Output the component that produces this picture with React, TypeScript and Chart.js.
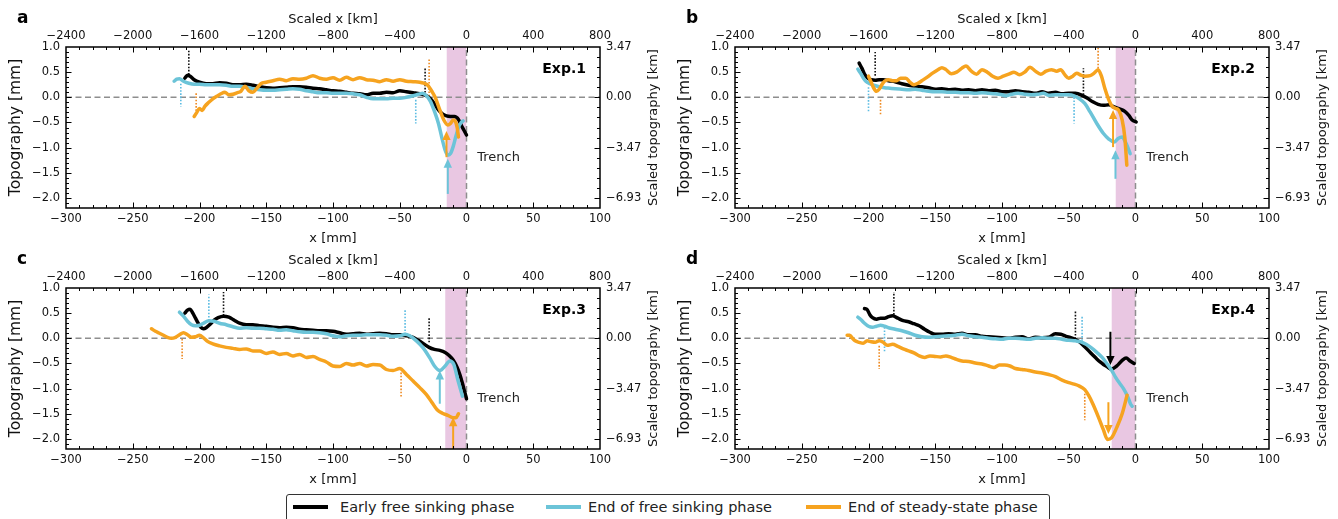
import React, { useEffect, useRef } from 'react';
import { Chart, registerables } from 'chart.js';

Chart.register(...registerables);

type Pt = [number, number];
type Mark = [number, number, number]; // x, y-from, y-to (mm)

// ---------- axes ----------
const X_MIN = -300;
const X_MAX = 100;
const Y_MIN = -2.2;
const Y_MAX = 1.0;
const X_KM_PER_MM = 8;
const KM_PER_MM = 3.466;
const X_MM_TICKS = [-300, -250, -200, -150, -100, -50, 0, 50, 100];
const X_KM_TICKS = [-2400, -2000, -1600, -1200, -800, -400, 0, 400, 800];
const Y_MM_TICKS = [-2.0, -1.5, -1.0, -0.5, 0.0, 0.5, 1.0];
const Y_KM_TICK_POS_MM = [-2, -1, 0, 1];

const SERIES_NAMES = ['Early free sinking phase', 'End of free sinking phase', 'End of steady-state phase'];
const PANEL_LETTERS = ['a', 'b', 'c', 'd'];
const EXP_LABELS = ['Exp.1', 'Exp.2', 'Exp.3', 'Exp.4'];
const EXP_POS: Pt = [89.5, 0.55];
const TRENCH_POS: Pt = [8, -1.2];

// ---------- Exp.1 ----------
const aEarly: Pt[] = [
  [-211, 0.38], [-209, 0.44], [-207, 0.42], [-204, 0.35], [-200, 0.3], [-195, 0.27], [-190, 0.27], [-185, 0.29],
  [-180, 0.28], [-175, 0.25], [-170, 0.25], [-165, 0.26], [-160, 0.24], [-155, 0.21], [-150, 0.19], [-145, 0.18],
  [-140, 0.19], [-135, 0.2], [-130, 0.21], [-125, 0.21], [-120, 0.2], [-115, 0.18], [-110, 0.17], [-105, 0.15],
  [-100, 0.13], [-95, 0.12], [-90, 0.1], [-85, 0.08], [-80, 0.07], [-75, 0.05], [-70, 0.08], [-65, 0.08],
  [-60, 0.1], [-55, 0.09], [-50, 0.13], [-45, 0.11], [-40, 0.09], [-35, 0.07], [-30, 0.03], [-27, -0.03],
  [-24, -0.13], [-21, -0.25], [-18, -0.33], [-15, -0.37], [-12, -0.38], [-9, -0.38], [-6, -0.44], [-4, -0.55],
  [-2, -0.65], [0, -0.75],
];
const aEnd: Pt[] = [
  [-219, 0.32], [-217, 0.36], [-215, 0.37], [-212, 0.32], [-208, 0.28], [-204, 0.26], [-200, 0.26], [-195, 0.25],
  [-190, 0.25], [-185, 0.25], [-180, 0.24], [-175, 0.22], [-170, 0.22], [-165, 0.2], [-160, 0.17], [-155, 0.15],
  [-150, 0.14], [-145, 0.14], [-140, 0.15], [-135, 0.16], [-130, 0.17], [-125, 0.16], [-120, 0.13], [-115, 0.11],
  [-110, 0.09], [-105, 0.09], [-100, 0.08], [-95, 0.08], [-90, 0.08], [-85, 0.07], [-80, 0.05], [-75, 0.0],
  [-70, -0.03], [-65, -0.03], [-60, -0.03], [-55, -0.02], [-50, -0.02], [-45, 0.0], [-40, 0.03], [-36, 0.06],
  [-33, 0.08], [-30, 0.03], [-27, -0.08], [-24, -0.28], [-21, -0.52], [-18.5, -0.8], [-16, -1.05], [-14, -1.15],
  [-12, -1.12], [-10, -0.98], [-8, -0.78], [-6, -0.6], [-4, -0.5], [-2.5, -0.47],
];
const aSteady: Pt[] = [
  [-204, -0.38], [-202, -0.3], [-200, -0.22], [-198, -0.26], [-196, -0.18], [-193, -0.1], [-190, -0.03], [-187, 0.02],
  [-184, 0.07], [-181, 0.1], [-178, 0.05], [-175, 0.06], [-172, 0.09], [-169, 0.12], [-166, 0.22], [-163, 0.13],
  [-160, 0.1], [-157, 0.18], [-154, 0.27], [-150, 0.3], [-145, 0.33], [-140, 0.36], [-135, 0.33], [-130, 0.37],
  [-125, 0.36], [-120, 0.38], [-115, 0.43], [-110, 0.38], [-105, 0.36], [-100, 0.39], [-95, 0.34], [-90, 0.4],
  [-85, 0.35], [-80, 0.39], [-75, 0.35], [-70, 0.34], [-65, 0.31], [-60, 0.35], [-55, 0.32], [-50, 0.35],
  [-45, 0.32], [-40, 0.31], [-35, 0.3], [-32, 0.28], [-29, 0.24], [-26, 0.12], [-23.5, 0.0], [-20, -0.25],
  [-17, -0.45], [-14, -0.55], [-12, -0.52], [-10, -0.45], [-8.5, -0.47], [-7, -0.6], [-6, -0.79],
];
const aEarlyMarks: Mark[] = [[-208, 0.45, 0.96], [-31, 0.03, 0.59]];
const aEndMarks: Mark[] = [[-214, 0.27, -0.19], [-38, -0.05, -0.52]];
const aSteadyMarks: Mark[] = [[-202.5, 0.08, -0.3], [-28, 0.02, 0.77]];
const aArrows: Mark[][] = [[], [[-14, -1.92, -1.22]], [[-15, -1.19, -0.67]]];
const aBand: Pt = [-15, 0];

// ---------- Exp.2 ----------
const bEarly: Pt[] = [
  [-207, 0.68], [-205, 0.58], [-203, 0.46], [-201, 0.39], [-198, 0.35], [-195, 0.34], [-192, 0.35], [-189, 0.35],
  [-185, 0.33], [-180, 0.31], [-175, 0.27], [-170, 0.24], [-165, 0.22], [-160, 0.21], [-155, 0.19], [-150, 0.16],
  [-145, 0.17], [-140, 0.15], [-135, 0.16], [-130, 0.14], [-125, 0.15], [-120, 0.13], [-115, 0.15], [-110, 0.13],
  [-105, 0.14], [-100, 0.11], [-95, 0.11], [-90, 0.13], [-85, 0.11], [-80, 0.1], [-75, 0.08], [-70, 0.11],
  [-65, 0.08], [-60, 0.1], [-55, 0.07], [-50, 0.08], [-45, 0.08], [-40, 0.04], [-36, -0.02], [-32, -0.09],
  [-28, -0.14], [-24, -0.16], [-20, -0.15], [-16, -0.19], [-12, -0.23], [-8, -0.28], [-5, -0.36], [-2.5, -0.45],
  [0.5, -0.49],
];
const bEnd: Pt[] = [
  [-208, 0.56], [-206, 0.48], [-204, 0.39], [-202, 0.32], [-199, 0.27], [-196, 0.24], [-192, 0.21], [-188, 0.19],
  [-184, 0.18], [-180, 0.17], [-175, 0.16], [-170, 0.15], [-165, 0.16], [-160, 0.14], [-155, 0.12], [-150, 0.11],
  [-145, 0.11], [-140, 0.1], [-135, 0.1], [-130, 0.09], [-125, 0.09], [-120, 0.08], [-115, 0.09], [-110, 0.08],
  [-105, 0.07], [-100, 0.05], [-97, 0.03], [-93, 0.06], [-88, 0.08], [-83, 0.06], [-78, 0.05], [-73, 0.06],
  [-69, 0.08], [-65, 0.04], [-60, 0.05], [-55, 0.05], [-50, 0.05], [-46, 0.03], [-42, -0.03], [-38, -0.12],
  [-34, -0.29], [-29, -0.52], [-24, -0.72], [-20, -0.83], [-16, -0.89], [-13, -0.82], [-10, -0.79], [-7, -0.92],
  [-4, -1.12],
];
const bSteady: Pt[] = [
  [-200, 0.42], [-198, 0.3], [-196, 0.18], [-194, 0.12], [-192, 0.16], [-190, 0.25], [-188, 0.32], [-185, 0.35],
  [-182, 0.33], [-179, 0.33], [-176, 0.38], [-172, 0.38], [-169, 0.3], [-166, 0.25], [-163, 0.28], [-160, 0.33],
  [-156, 0.4], [-152, 0.48], [-148, 0.55], [-145, 0.59], [-142, 0.55], [-138, 0.47], [-134, 0.5], [-130, 0.58],
  [-127, 0.62], [-123, 0.52], [-119, 0.46], [-115, 0.55], [-111, 0.5], [-107, 0.42], [-103, 0.38], [-99, 0.42],
  [-95, 0.46], [-91, 0.5], [-87, 0.45], [-83, 0.5], [-79, 0.6], [-75, 0.52], [-71, 0.46], [-67, 0.52],
  [-63, 0.55], [-59, 0.52], [-56, 0.55], [-53, 0.45], [-50, 0.38], [-47, 0.42], [-44, 0.48], [-41, 0.44],
  [-38, 0.42], [-34, 0.43], [-31, 0.48], [-28, 0.55], [-25.5, 0.42], [-23, 0.18], [-20, -0.05], [-17.5, -0.18],
  [-15, -0.22], [-12.5, -0.26], [-10, -0.45], [-8, -0.8], [-6.5, -1.35],
];
const bEarlyMarks: Mark[] = [[-195, 0.43, 0.9], [-39, 0.05, 0.58]];
const bEndMarks: Mark[] = [[-200, 0.2, -0.28], [-46, 0.0, -0.52]];
const bSteadyMarks: Mark[] = [[-191, -0.05, -0.35], [-28, 0.51, 0.98]];
const bArrows: Mark[][] = [[], [[-15, -1.62, -1.05]], [[-16.8, -0.99, -0.25]]];
const bBand: Pt = [-15, 0];

// ---------- Exp.3 ----------
const cEarly: Pt[] = [
  [-211, 0.5], [-209, 0.56], [-207, 0.58], [-205, 0.5], [-203, 0.4], [-201, 0.3], [-199, 0.22], [-197, 0.19],
  [-195, 0.21], [-192, 0.28], [-189, 0.36], [-186, 0.41], [-182, 0.44], [-178, 0.42], [-174, 0.36], [-170, 0.3],
  [-165, 0.27], [-160, 0.27], [-155, 0.25], [-150, 0.24], [-145, 0.22], [-140, 0.21], [-135, 0.22], [-130, 0.21],
  [-125, 0.18], [-120, 0.17], [-115, 0.16], [-110, 0.15], [-105, 0.15], [-100, 0.14], [-95, 0.11], [-90, 0.08],
  [-85, 0.09], [-80, 0.1], [-75, 0.08], [-70, 0.09], [-65, 0.1], [-60, 0.09], [-55, 0.07], [-50, 0.07],
  [-45, 0.05], [-40, 0.02], [-36, -0.04], [-32, -0.11], [-28, -0.18], [-24, -0.22], [-20, -0.24], [-16, -0.28],
  [-13, -0.34], [-10, -0.43], [-7, -0.58], [-5, -0.72], [-3, -0.9], [-1.5, -1.05], [0, -1.2],
];
const cEnd: Pt[] = [
  [-215, 0.52], [-212, 0.44], [-209, 0.34], [-206, 0.27], [-203, 0.25], [-200, 0.26], [-197, 0.3], [-193, 0.35],
  [-189, 0.34], [-185, 0.3], [-180, 0.27], [-175, 0.23], [-170, 0.2], [-165, 0.21], [-160, 0.2], [-155, 0.2],
  [-150, 0.19], [-145, 0.18], [-140, 0.16], [-135, 0.17], [-130, 0.15], [-125, 0.13], [-120, 0.12], [-115, 0.12],
  [-110, 0.11], [-105, 0.09], [-100, 0.05], [-95, 0.03], [-90, 0.05], [-85, 0.06], [-80, 0.06], [-75, 0.07],
  [-70, 0.07], [-65, 0.07], [-60, 0.06], [-55, 0.04], [-50, 0.05], [-46, 0.08], [-42.5, 0.05], [-37.5, -0.05],
  [-32.5, -0.19], [-27.5, -0.39], [-24, -0.55], [-20, -0.64], [-16, -0.55], [-12.5, -0.45], [-9.5, -0.52],
  [-6.25, -0.85], [-3, -1.15],
];
const cSteady: Pt[] = [
  [-236, 0.19], [-233, 0.14], [-230, 0.1], [-227, 0.06], [-224, 0.02], [-221, 0.0], [-218, 0.02], [-215, 0.07],
  [-212, 0.11], [-209, 0.07], [-206, 0.02], [-203, 0.03], [-200, 0.06], [-197, 0.01], [-194, -0.06], [-190, -0.11],
  [-185, -0.15], [-180, -0.18], [-175, -0.2], [-170, -0.22], [-165, -0.21], [-160, -0.25], [-155, -0.25],
  [-150, -0.3], [-145, -0.27], [-140, -0.32], [-135, -0.3], [-130, -0.35], [-125, -0.32], [-120, -0.38],
  [-115, -0.36], [-110, -0.42], [-105, -0.47], [-100, -0.55], [-95, -0.56], [-90, -0.5], [-85, -0.53],
  [-80, -0.5], [-75, -0.55], [-70, -0.52], [-65, -0.53], [-60, -0.62], [-55, -0.64], [-50, -0.6], [-45, -0.72],
  [-40, -0.85], [-35, -0.98], [-30, -1.12], [-26, -1.27], [-22, -1.42], [-18, -1.49], [-14, -1.53], [-10, -1.58],
  [-8, -1.58], [-6, -1.5],
];
const cEarlyMarks: Mark[] = [[-182, 0.45, 0.92], [-28, -0.08, 0.4]];
const cEndMarks: Mark[] = [[-193, 0.35, 0.87], [-46, 0.08, 0.59]];
const cSteadyMarks: Mark[] = [[-213, -0.01, -0.41], [-49, -0.68, -1.18]];
const cArrows: Mark[][] = [[], [[-20, -1.3, -0.64]], [[-10, -2.2, -1.57]]];
const cBand: Pt = [-16, 0];

// ---------- Exp.4 ----------
const dEarly: Pt[] = [
  [-203, 0.59], [-201, 0.57], [-199, 0.47], [-197, 0.41], [-194, 0.38], [-191, 0.4], [-188, 0.4], [-185, 0.43],
  [-182, 0.45], [-178, 0.4], [-174, 0.35], [-170, 0.33], [-166, 0.29], [-162, 0.25], [-158, 0.18], [-154, 0.12],
  [-150, 0.08], [-145, 0.08], [-140, 0.09], [-135, 0.08], [-130, 0.1], [-125, 0.07], [-120, 0.07], [-115, 0.04],
  [-110, 0.03], [-105, 0.02], [-100, 0.01], [-95, 0.0], [-90, 0.02], [-85, 0.03], [-80, -0.01], [-75, 0.02],
  [-70, 0.01], [-65, 0.02], [-60, 0.09], [-56, 0.08], [-52, 0.04], [-48, 0.01], [-44.5, -0.03], [-41, -0.09],
  [-38, -0.17], [-35, -0.25], [-32, -0.33], [-29, -0.41], [-26.5, -0.47], [-24, -0.52], [-21.5, -0.56],
  [-18, -0.61], [-14, -0.55], [-10, -0.44], [-7, -0.39], [-4, -0.45], [-1, -0.5],
];
const dEnd: Pt[] = [
  [-208, 0.42], [-206, 0.38], [-203, 0.3], [-200, 0.24], [-197, 0.22], [-194, 0.24], [-191, 0.26], [-188, 0.24],
  [-185, 0.21], [-180, 0.18], [-175, 0.15], [-170, 0.11], [-165, 0.06], [-160, 0.03], [-155, 0.02], [-150, 0.03],
  [-145, 0.04], [-140, 0.05], [-135, 0.06], [-130, 0.08], [-125, 0.05], [-120, 0.03], [-115, 0.02], [-110, 0.0],
  [-105, -0.01], [-100, -0.02], [-95, 0.0], [-90, 0.0], [-85, -0.01], [-80, -0.02], [-75, 0.0], [-70, 0.01],
  [-65, 0.0], [-60, 0.0], [-55, -0.02], [-50, -0.04], [-45, -0.05], [-41, -0.07], [-37, -0.12], [-33, -0.19],
  [-29, -0.28], [-25, -0.38], [-21.5, -0.5], [-18, -0.63], [-15, -0.77], [-12, -0.89], [-9, -1.0], [-6, -1.15],
  [-3.8, -1.3], [-2.5, -1.35],
];
const dSteady: Pt[] = [
  [-216, 0.06], [-214, 0.06], [-212, 0.0], [-210, -0.05], [-207, -0.08], [-204, -0.1], [-201, -0.05], [-198, -0.07],
  [-195, -0.08], [-192, -0.05], [-189, -0.08], [-186, -0.14], [-182, -0.12], [-178, -0.16], [-174, -0.21],
  [-170, -0.25], [-166, -0.29], [-162, -0.35], [-158, -0.38], [-154, -0.35], [-150, -0.36], [-146, -0.37],
  [-142, -0.35], [-138, -0.38], [-134, -0.42], [-130, -0.45], [-125, -0.46], [-120, -0.49], [-115, -0.51],
  [-110, -0.55], [-106, -0.58], [-102, -0.53], [-98, -0.53], [-94, -0.55], [-90, -0.6], [-85, -0.62],
  [-80, -0.64], [-75, -0.67], [-70, -0.69], [-65, -0.72], [-60, -0.76], [-55, -0.83], [-50, -0.88], [-46, -0.91],
  [-42, -0.95], [-38, -1.02], [-35, -1.14], [-32, -1.3], [-28, -1.55], [-24, -1.82], [-21, -2.01], [-18, -1.98],
  [-14, -1.77], [-10, -1.5], [-6.3, -1.13],
];
const dEarlyMarks: Mark[] = [[-181, 0.47, 0.92], [-45, -0.01, 0.55]];
const dEndMarks: Mark[] = [[-188, 0.22, -0.27], [-40, -0.05, 0.45]];
const dSteadyMarks: Mark[] = [[-192, -0.15, -0.61], [-38, -1.1, -1.63]];
const dArrows: Mark[][] = [[[-18.8, 0.13, -0.53]], [], [[-20.3, -1.27, -1.9]]];
const dBand: Pt = [-18, 0];

// ---------- styles ----------
const FONT = '"DejaVu Sans", "Liberation Sans", sans-serif';
const SERIES_COLORS = ['#000000', '#6cc4d8', '#f6a31f'];
const MARK_COLORS = ['#111111', '#5cbce2', '#ee8a22'];
const ZERO_COLOR = '#8e8e8e';
const BAND_COLOR = '#e9c7e2';
const PANEL_W = 669;
const PANEL_H = 241;
const CANVAS_H = 250;

type PanelData = {
  series: Pt[][];
  marks: Mark[][];
  arrows: Mark[][];
  band: Pt;
};

const PANELS: PanelData[] = [
  { series: [aEarly, aEnd, aSteady], marks: [aEarlyMarks, aEndMarks, aSteadyMarks], arrows: aArrows, band: aBand },
  { series: [bEarly, bEnd, bSteady], marks: [bEarlyMarks, bEndMarks, bSteadyMarks], arrows: bArrows, band: bBand },
  { series: [cEarly, cEnd, cSteady], marks: [cEarlyMarks, cEndMarks, cSteadyMarks], arrows: cArrows, band: cBand },
  { series: [dEarly, dEnd, dSteady], marks: [dEarlyMarks, dEndMarks, dSteadyMarks], arrows: dArrows, band: dBand },
];

const minus = (s: string) => s.replace('-', '\u2212');

function buildConfig(idx: number): any {
  const p = PANELS[idx];
  const datasets: any[] = [];
  // shaded trench band
  datasets.push({
    label: 'band',
    data: [{ x: p.band[0], y: Y_MAX }, { x: p.band[1], y: Y_MAX }],
    borderWidth: 0,
    pointRadius: 0,
    fill: 'start',
    backgroundColor: BAND_COLOR,
    order: 30,
  });
  // zero reference lines
  datasets.push({
    label: 'zero-h',
    data: [{ x: X_MIN, y: 0 }, { x: X_MAX, y: 0 }],
    borderColor: ZERO_COLOR, borderWidth: 1.5, borderDash: [6, 3.5], pointRadius: 0, fill: false, order: 25,
  });
  datasets.push({
    label: 'zero-v',
    data: [{ x: 0, y: Y_MIN }, { x: 0, y: Y_MAX }],
    borderColor: ZERO_COLOR, borderWidth: 1.5, borderDash: [6, 3.5], pointRadius: 0, fill: false, order: 25,
  });
  // dotted markers
  p.marks.forEach((ms, si) => {
    ms.forEach((m, mi) => {
      datasets.push({
        label: `mark-${si}-${mi}`,
        data: [{ x: m[0], y: m[1] }, { x: m[0], y: m[2] }],
        borderColor: MARK_COLORS[si], borderWidth: 1.6, borderDash: [1.6, 1.6], pointRadius: 0, fill: false,
        order: 20,
      });
    });
  });
  // profiles
  p.series.forEach((pts, si) => {
    datasets.push({
      label: SERIES_NAMES[si],
      data: pts.map(([x, y]) => ({ x, y })),
      borderColor: SERIES_COLORS[si],
      borderWidth: 3.5,
      pointRadius: 0,
      fill: false,
      cubicInterpolationMode: 'monotone',
      borderJoinStyle: 'round',
      borderCapStyle: 'round',
      order: 10 - si,
    });
  });

  const tickFont = { family: FONT, size: 11.5 };
  const noGrid = { display: false, drawTicks: false, tickLength: 0 };
  const decor = {
    id: 'decor',
    afterDraw(chart: any) {
      const ctx = chart.ctx as CanvasRenderingContext2D;
      const xs = chart.scales.x;
      const ys = chart.scales.y;
      const { left, right, top, bottom } = chart.chartArea;
      ctx.save();
      // arrows
      p.arrows.forEach((as, si) => {
        as.forEach((a) => {
          const px = xs.getPixelForValue(a[0]);
          const p0 = ys.getPixelForValue(a[1]);
          const p1 = ys.getPixelForValue(a[2]);
          const dir = p1 > p0 ? 1 : -1;
          const hl = 9;
          const hw = 4.2;
          ctx.strokeStyle = SERIES_COLORS[si];
          ctx.fillStyle = SERIES_COLORS[si];
          ctx.lineWidth = 2;
          ctx.setLineDash([]);
          ctx.beginPath();
          ctx.moveTo(px, Math.min(Math.max(p0, top), bottom));
          ctx.lineTo(px, p1 - dir * hl * 0.7);
          ctx.stroke();
          ctx.beginPath();
          ctx.moveTo(px, p1);
          ctx.lineTo(px - hw, p1 - dir * hl);
          ctx.lineTo(px + hw, p1 - dir * hl);
          ctx.closePath();
          ctx.fill();
        });
      });
      // inward ticks
      ctx.strokeStyle = '#000';
      ctx.lineWidth = 1;
      ctx.beginPath();
      for (let v = X_MIN + 10; v < X_MAX; v += 10) {
        const px = Math.round(xs.getPixelForValue(v)) + 0.5;
        const len = v % 50 === 0 ? 5.5 : 3;
        ctx.moveTo(px, bottom); ctx.lineTo(px, bottom - len);
        ctx.moveTo(px, top); ctx.lineTo(px, top + len);
      }
      for (let i = -21; i < 10; i++) {
        const py = Math.round(ys.getPixelForValue(i / 10)) + 0.5;
        const len = i % 5 === 0 ? 5.5 : 3;
        ctx.moveTo(left, py); ctx.lineTo(left + len, py);
      }
      for (let i = -20; i < 10; i += 2) {
        const py = Math.round(ys.getPixelForValue(i / 10)) + 0.5;
        const len = i % 10 === 0 ? 5.5 : 3;
        ctx.moveTo(right, py); ctx.lineTo(right - len, py);
      }
      ctx.stroke();
      // frame
      ctx.lineWidth = 1.5;
      ctx.strokeRect(left, top, right - left, bottom - top);
      // right axis title (reads bottom to top)
      ctx.fillStyle = '#111';
      ctx.save();
      ctx.translate(654, (top + bottom) / 2);
      ctx.rotate(-Math.PI / 2);
      ctx.font = `13px ${FONT}`;
      ctx.textAlign = 'center';
      ctx.textBaseline = 'middle';
      ctx.fillText('Scaled topography [km]', 0, 0);
      ctx.restore();
      // panel letter
      ctx.font = `bold 17px ${FONT}`;
      ctx.textAlign = 'left';
      ctx.textBaseline = 'alphabetic';
      ctx.fillStyle = '#000';
      ctx.fillText(PANEL_LETTERS[idx], 17, 23);
      // Exp label
      ctx.font = `bold 14px ${FONT}`;
      ctx.textAlign = 'right';
      ctx.textBaseline = 'middle';
      ctx.fillText(EXP_LABELS[idx], xs.getPixelForValue(EXP_POS[0]), ys.getPixelForValue(EXP_POS[1]));
      // Trench label
      ctx.font = `13px ${FONT}`;
      ctx.textAlign = 'left';
      ctx.fillStyle = '#222';
      ctx.fillText('Trench', xs.getPixelForValue(TRENCH_POS[0]), ys.getPixelForValue(TRENCH_POS[1]));
      ctx.restore();
    },
  };

  return {
    type: 'line',
    data: { datasets },
    options: {
      animation: false,
      responsive: false,
      maintainAspectRatio: false,
      events: [],
      layout: { padding: 0 },
      plugins: { legend: { display: false }, tooltip: { enabled: false } },
      scales: {
        x: {
          type: 'linear', position: 'bottom', min: X_MIN, max: X_MAX,
          afterBuildTicks: (s: any) => { s.ticks = X_MM_TICKS.map((value) => ({ value })); },
          afterFit: (s: any) => { s.height = CANVAS_H - 208; },
          grid: noGrid, border: { display: false },
          ticks: { autoSkip: false, maxRotation: 0, padding: 4, color: '#111', font: tickFont, callback: (v: number) => minus(String(v)) },
          title: { display: true, text: 'x [mm]', color: '#111', font: { family: FONT, size: 13 }, padding: { top: 0, bottom: 4 } },
        },
        x2: {
          type: 'linear', position: 'top', min: X_MIN * X_KM_PER_MM, max: X_MAX * X_KM_PER_MM,
          afterBuildTicks: (s: any) => { s.ticks = X_KM_TICKS.map((value) => ({ value })); },
          afterFit: (s: any) => { s.height = 47; },
          grid: noGrid, border: { display: false },
          ticks: { autoSkip: false, maxRotation: 0, padding: 4, color: '#111', font: tickFont, callback: (v: number) => minus(String(v)) },
          title: { display: true, text: 'Scaled x [km]', color: '#111', font: { family: FONT, size: 13 }, padding: { top: 12, bottom: 0 } },
        },
        y: {
          type: 'linear', position: 'left', min: Y_MIN, max: Y_MAX,
          afterBuildTicks: (s: any) => { s.ticks = Y_MM_TICKS.map((value) => ({ value })); },
          afterFit: (s: any) => { s.width = 66; },
          grid: noGrid, border: { display: false },
          ticks: { autoSkip: false, padding: 6, color: '#111', font: tickFont, callback: (v: number) => minus(Number(v).toFixed(1)) },
          title: { display: true, text: 'Topography [mm]', color: '#111', font: { family: FONT, size: 15.5 }, padding: { top: 7, bottom: 0 } },
        },
        y2: {
          type: 'linear', position: 'right', min: Y_MIN, max: Y_MAX,
          afterBuildTicks: (s: any) => { s.ticks = Y_KM_TICK_POS_MM.map((value) => ({ value })); },
          afterFit: (s: any) => { s.width = PANEL_W - 600; },
          grid: noGrid, border: { display: false },
          ticks: { autoSkip: false, padding: 6, color: '#111', font: tickFont, callback: (v: number) => minus((Number(v) * KM_PER_MM).toFixed(2)) },
        },
      },
    },
    plugins: [decor],
  };
}

function Panel({ idx }: { idx: number }) {
  const ref = useRef<HTMLCanvasElement>(null);
  useEffect(() => {
    if (!ref.current) return;
    const chart = new Chart(ref.current, buildConfig(idx));
    return () => chart.destroy();
  }, [idx]);
  const left = (idx % 2) * PANEL_W;
  const top = Math.floor(idx / 2) * PANEL_H;
  return (
    <canvas
      ref={ref}
      width={PANEL_W}
      height={CANVAS_H}
      style={{ position: 'absolute', left, top, width: PANEL_W, height: CANVAS_H }}
    />
  );
}

const LEGEND_LINE_X = [6, 259, 519];
const LEGEND_TEXT_X = [53, 301, 561];

export default function App() {
  return (
    <div style={{ position: 'fixed', left: 0, top: 0, width: 1338, height: 519, overflow: 'hidden', background: '#fff' }}>
      {[0, 1, 2, 3].map((i) => <Panel key={i} idx={i} />)}
      <div
        style={{
          position: 'absolute', left: 286, top: 494, width: 764, height: 34, boxSizing: 'border-box',
          border: '1.5px solid #333', borderRadius: 3, background: '#fff', fontFamily: FONT, fontSize: 14.5, color: '#222',
        }}
      >
        {SERIES_NAMES.map((name, i) => (
          <React.Fragment key={name}>
            <div style={{ position: 'absolute', left: LEGEND_LINE_X[i], top: 10, width: 35, height: 4, background: SERIES_COLORS[i] }} />
            <div style={{ position: 'absolute', left: LEGEND_TEXT_X[i], top: 2, lineHeight: '20px', whiteSpace: 'nowrap' }}>{name}</div>
          </React.Fragment>
        ))}
      </div>
    </div>
  );
}
